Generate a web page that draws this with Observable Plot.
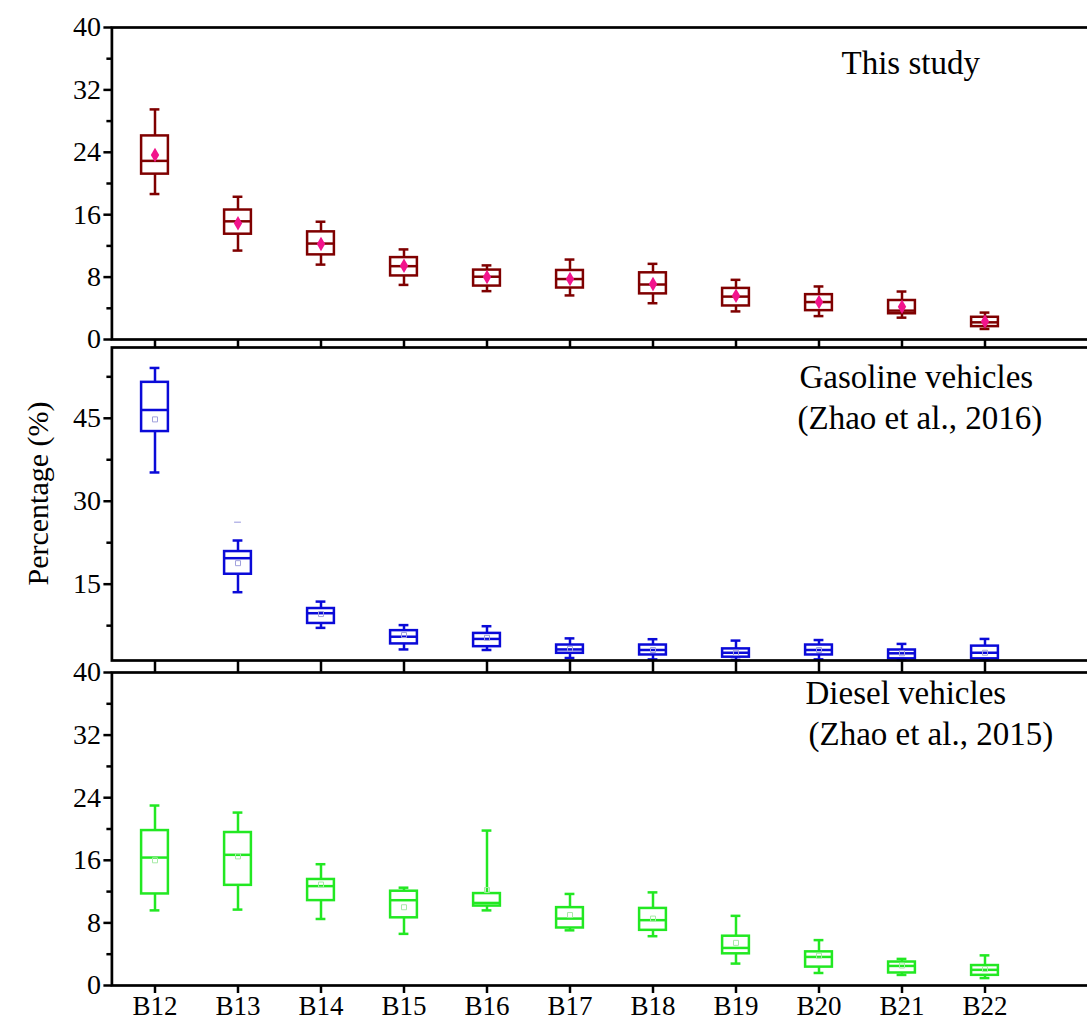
<!DOCTYPE html>
<html><head><meta charset="utf-8">
<script src="https://cdn.jsdelivr.net/npm/d3@7"></script>
<script src="https://cdn.jsdelivr.net/npm/@observablehq/plot@0.6"></script>
<style>
html,body{margin:0;padding:0;background:#fff;overflow:hidden;}
#chart{position:relative;width:1087px;height:1027px;overflow:hidden;background:#fff;}
#chart svg{position:absolute;left:0;top:0;}
#chart svg text{font-family:"Liberation Serif","Times New Roman",serif !important;}
#chart svg g[aria-label="y-axis tick label"]{font-size:28px !important;}
#chart svg g[aria-label="x-axis tick label"]{font-size:27px !important;}
</style></head><body><div id="chart"></div>
<script>
const categories = ["B12","B13","B14","B15","B16","B17","B18","B19","B20","B21","B22"];

// Panel 1: This study
const studyLow    = [18.65, 11.4, 9.6, 7.0, 6.2, 5.65, 4.65, 3.6, 3.0, 2.8, 1.35];
const studyQ1     = [21.2, 13.5, 10.85, 8.15, 6.85, 6.6, 5.85, 4.3, 3.7, 3.3, 1.65];
const studyMedian = [22.9, 15.15, 12.3, 9.4, 8.05, 7.75, 7.05, 5.5, 4.8, 3.7, 2.2];
const studyQ3     = [26.1, 16.6, 13.8, 10.5, 8.9, 8.85, 8.55, 6.55, 5.75, 5.0, 2.85];
const studyHigh   = [29.5, 18.3, 15.1, 11.55, 9.5, 10.25, 9.7, 7.65, 6.8, 6.15, 3.45];
const studyMean   = [23.65, 14.9, 12.25, 9.45, 8.0, 7.75, 7.1, 5.6, 4.8, 4.2, 2.3];

// Panel 2: Gasoline vehicles (Zhao et al., 2016)
const gasLow    = [35.2, 13.55, 7.1, 3.2, 3.1, 1.65, 1.4, 1.3, 1.4, 1.3, 1.3];
const gasQ1     = [42.6, 16.8, 7.9, 4.2, 3.7, 2.5, 2.2, 1.8, 2.2, 1.5, 1.5];
const gasMedian = [46.5, 19.7, 9.75, 5.5, 5.1, 3.2, 3.1, 2.6, 3.1, 2.5, 2.6];
const gasQ3     = [51.5, 20.9, 10.6, 6.6, 6.1, 4.0, 4.0, 3.3, 4.0, 3.1, 3.8];
const gasHigh   = [54.1, 22.9, 11.85, 7.6, 7.4, 5.2, 5.05, 4.8, 4.9, 4.2, 5.1];
const gasMean   = [44.8, 18.8, 9.6, 5.8, 5.3, 3.3, 3.1, 2.6, 3.1, 2.5, 2.6];
const gasOutlierCats   = ["B13"];
const gasOutlierValues = [26.2];

// Panel 3: Diesel vehicles (Zhao et al., 2015)
const dieLow    = [9.6, 9.7, 8.5, 6.6, 9.6, 7.05, 6.3, 2.8, 1.6, 1.35, 0.95];
const dieQ1     = [11.7, 12.8, 10.85, 8.65, 10.15, 7.35, 7.05, 4.05, 2.35, 1.6, 1.3];
const dieMedian = [16.35, 16.7, 12.7, 10.9, 10.55, 8.55, 8.35, 4.8, 3.65, 2.5, 2.0];
const dieQ3     = [19.8, 19.55, 13.55, 12.05, 11.75, 9.95, 9.85, 6.3, 4.3, 3.0, 2.55];
const dieHigh   = [23.0, 22.1, 15.5, 12.5, 19.8, 11.7, 11.9, 8.9, 5.8, 3.4, 3.85];
const dieMean   = [16.0, 16.5, 12.9, 10.0, 12.2, 9.0, 8.55, 5.45, 3.8, 2.55, 2.1];

const yTicks40 = [0, 8, 16, 24, 32, 40];
const yMinor40 = [4, 12, 20, 28, 36];
const yTicksGas = [15, 30, 45];
const yMinorGas = [7.5, 22.5, 37.5, 52.5];

const W = 1100, H = 1027, ML = 111.4, STEP = 83.2;
const X_RANGE = [ML, ML + STEP * categories.length];
const boxInset = (STEP - 27) / 2;
const capInset = (STEP - 10) / 2;
const FONT = "Liberation Serif, Times New Roman, serif";

function rows(low, q1, med, q3, high, mean) {
  return categories.map((c, i) => ({cat: c, low: low[i], q1: q1[i], med: med[i], q3: q3[i], high: high[i], mean: mean[i]}));
}

function panel(opts) {
  const data = rows(...opts.series);
  const c = opts.color;
  const marks = [
    Plot.ruleX(data, {x: "cat", y1: "low", y2: "high", stroke: c, strokeWidth: 2.5}),
    Plot.tickY(data, {x: "cat", y: "low", stroke: c, strokeWidth: 2.5, insetLeft: capInset, insetRight: capInset}),
    Plot.tickY(data, {x: "cat", y: "high", stroke: c, strokeWidth: 2.5, insetLeft: capInset, insetRight: capInset}),
    Plot.barY(data, {x: "cat", y1: "q1", y2: "q3", fill: "white", stroke: c, strokeWidth: 2.5, insetLeft: boxInset, insetRight: boxInset}),
    Plot.tickY(data, {x: "cat", y: "med", stroke: c, strokeWidth: 2.5, insetLeft: boxInset, insetRight: boxInset}),
    opts.meanFilled
      ? Plot.dot(data, {x: "cat", y: "mean", symbol: "diamond", r: 4.4, fill: opts.meanColor, stroke: "none"})
      : Plot.dot(data, {x: "cat", y: "mean", symbol: "square2", r: 3.2, stroke: opts.meanColor, strokeWidth: 1, fill: "none"}),
    ...(opts.extra || []),
    Plot.frame({stroke: "black", strokeWidth: 2.7}),
    Plot.axisY({ticks: opts.ticks, tickSize: 8, tickPadding: 3, strokeWidth: 2.5, fontSize: 28, fontFamily: FONT, label: null, tickFormat: d => String(d)}),
    Plot.axisY({ticks: opts.minor, tickSize: 5, strokeWidth: 2.5, label: null, tickFormat: () => ""}),
    opts.xLabels
      ? Plot.axisX({tickSize: opts.xTickSize, tickPadding: 2, strokeWidth: 2.5, fontSize: 27, fontFamily: FONT, label: null})
      : Plot.axisX({tickSize: opts.xTickSize, strokeWidth: 2.5, label: null, tickFormat: () => ""}),
    ...(opts.texts || []).map(t => Plot.text([t.text], {text: d => d, frameAnchor: "top-left", dx: t.x - ML, dy: t.baseline - opts.top, textAnchor: "start", lineAnchor: "bottom", fontSize: 33, fontFamily: FONT, fill: "black"})),
    ...(opts.yLabel ? [Plot.text([opts.yLabel], {text: d => d, frameAnchor: "left", rotate: -90, dx: 38 - ML, dy: 493 - (opts.top + opts.bottom) / 2, textAnchor: "middle", lineAnchor: "middle", fontSize: 30, fontFamily: FONT, fill: "black"})] : [])
  ];
  return Plot.plot({
    width: W, height: H,
    marginLeft: ML, marginRight: 0, marginTop: opts.top, marginBottom: H - opts.bottom,
    x: {type: "band", domain: categories, range: X_RANGE, padding: 0, axis: null},
    y: {domain: opts.domain, axis: null},
    style: {background: "transparent", fontFamily: FONT, fontSize: "26px", overflow: "visible", maxWidth: "none", color: "black"},
    marks
  });
}

const chart = document.getElementById("chart");

chart.appendChild(panel({
  series: [studyLow, studyQ1, studyMedian, studyQ3, studyHigh, studyMean],
  color: "#7f0000", meanColor: "#f2148c", meanFilled: true,
  domain: [0, 40], top: 27, bottom: 339, ticks: yTicks40, minor: yMinor40,
  xTickSize: 8, xLabels: false,
  texts: [{text: "This study", x: 841, baseline: 73}]
}));

chart.appendChild(panel({
  series: [gasLow, gasQ1, gasMedian, gasQ3, gasHigh, gasMean],
  color: "#0a0ad8", meanColor: "#a0a0dc", meanFilled: false,
  domain: [1.2, 57.8], top: 347, bottom: 660, ticks: yTicksGas, minor: yMinorGas,
  xTickSize: 12, xLabels: false,
  extra: [Plot.tickY(gasOutlierCats.map((c, i) => ({cat: c, v: gasOutlierValues[i]})), {x: "cat", y: "v", stroke: "#b8b8e8", strokeWidth: 1.5, insetLeft: (STEP - 7) / 2, insetRight: (STEP - 7) / 2})],
  texts: [{text: "Gasoline vehicles", x: 799, baseline: 387}, {text: "(Zhao et al., 2016)", x: 797, baseline: 428}],
  yLabel: "Percentage (%)"
}));

chart.appendChild(panel({
  series: [dieLow, dieQ1, dieMedian, dieQ3, dieHigh, dieMean],
  color: "#22e822", meanColor: "#a6eaa6", meanFilled: false,
  domain: [0, 40], top: 672, bottom: 985, ticks: yTicks40, minor: yMinor40,
  xTickSize: 8, xLabels: true,
  texts: [{text: "Diesel vehicles", x: 805, baseline: 703}, {text: "(Zhao et al., 2015)", x: 808, baseline: 744}]
}));
</script>
</body></html>
